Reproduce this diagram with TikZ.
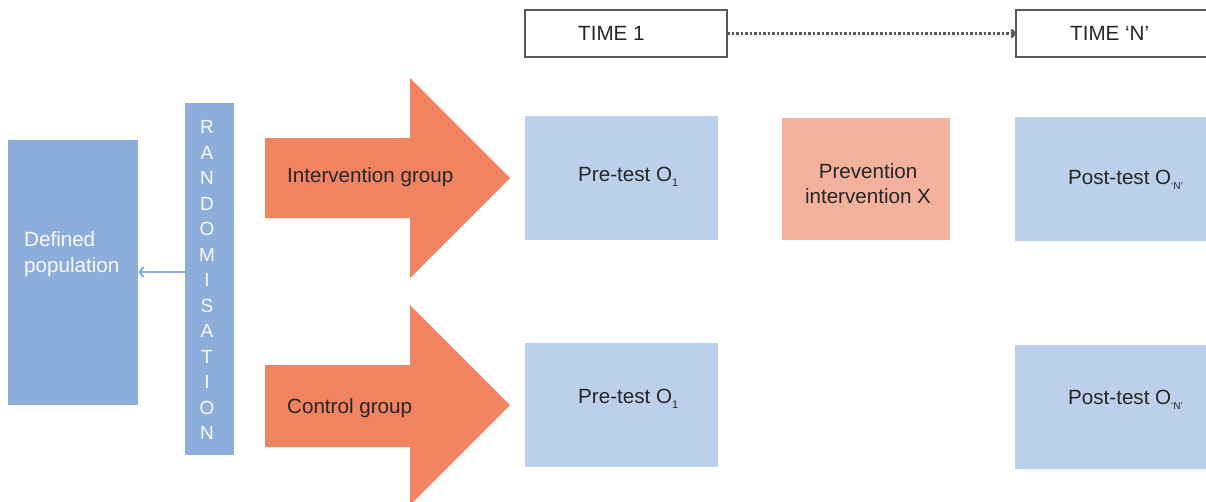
\documentclass[tikz,border=0pt]{standalone}
\usepackage{fontspec}
\setmainfont{Liberation Sans}
\usetikzlibrary{arrows.meta}
\definecolor{popblue}{HTML}{8DAEDB}
\definecolor{lightblue}{HTML}{BCD0EB}
\definecolor{bigorange}{HTML}{F08461}
\definecolor{salmon}{HTML}{F4B29D}
\definecolor{framegray}{HTML}{595959}
\definecolor{textdark}{HTML}{262626}
\newcommand{\mysub}[2]{\raisebox{-5pt}{\fontsize{#1}{#1}\selectfont #2}}
\tikzset{
  timebox/.style={draw=framegray, line width=2pt, fill=white},
  obsbox/.style={fill=lightblue},
  lbl/.style={text=textdark, font=\fontsize{20.6}{25}\selectfont, inner sep=0pt},
  wlbl/.style={text=white!95!gray, font=\fontsize{20.6}{26}\selectfont, inner sep=0pt},
  orangearrow/.style={fill=bigorange},
}
\begin{document}
\begin{tikzpicture}[x=1pt,y=-1pt]
\useasboundingbox (0,0) rectangle (1206,501);
% time boxes
\draw[timebox] (525,10) rectangle (727,57);
\coordinate (t1e) at (727,33.5);
\node[lbl, anchor=west] (time1) at (578,33) {TIME 1};
\draw[timebox] (1016,10) rectangle (1215,57);
\coordinate (tNw) at (1016,33.5);
\node[lbl, anchor=west] (timeN) at (1070,33) {TIME ‘N’};
\draw[framegray, line width=2.5pt, dotted, -{Straight Barb[length=3pt,width=8pt]}] (t1e) -- (tNw);

% defined population
\node[fill=popblue, minimum width=130pt, minimum height=265pt, inner sep=0pt] (pop) at (73,272.5) {};
\node[wlbl, anchor=west, align=left] (poptext) at (24,254) {Defined\\population};

% randomisation bar
\node[fill=popblue, minimum width=49pt, minimum height=352pt, inner sep=0pt] (rand) at (209.5,279) {};
\node[text=white!95!gray, font=\fontsize{19}{25.5}\selectfont, align=center, inner sep=0pt] (randtext) at (207,280)
 {R\\A\\N\\D\\O\\M\\I\\S\\A\\T\\I\\O\\N};
\draw[popblue, line width=2.2pt, -{Straight Barb[length=4pt,width=10pt]}] (rand.west |- 0,272) -- (pop.east |- 0,272);

% big orange arrows
\fill[orangearrow] (265,138) -- (410,138) -- (410,78) -- (510,178) -- (410,278) -- (410,218) -- (265,218) -- cycle;
\node[lbl, anchor=west] (intgrp) at (287,177) {Intervention group};
\fill[orangearrow] (265,365) -- (410,365) -- (410,305) -- (510,405) -- (410,505) -- (410,447) -- (265,447) -- cycle;
\node[lbl, anchor=west] (ctlgrp) at (287,408) {Control group};

% observation boxes
\node[obsbox, minimum width=193pt, minimum height=124pt, inner sep=0pt] (pre1) at (621.5,178) {};
\node[lbl, anchor=west] at (578,177) {Pre-test O\mysub{11}{1}};
\node[fill=salmon, minimum width=168pt, minimum height=122pt, inner sep=0pt] (prev) at (866,179) {};
\node[lbl, align=center] at (868,184) {Prevention\\intervention X};
\node[obsbox, minimum width=200pt, minimum height=124pt, inner sep=0pt] (post1) at (1115,179) {};
\node[lbl, anchor=west] at (1068,180) {Post-test O\mysub{10}{‘N’}};

\node[obsbox, minimum width=193pt, minimum height=124pt, inner sep=0pt] (pre2) at (621.5,405) {};
\node[lbl, anchor=west] at (578,399) {Pre-test O\mysub{11}{1}};
\node[obsbox, minimum width=200pt, minimum height=124pt, inner sep=0pt] (post2) at (1115,407) {};
\node[lbl, anchor=west] at (1068,400) {Post-test O\mysub{10}{‘N’}};
\end{tikzpicture}
\end{document}
